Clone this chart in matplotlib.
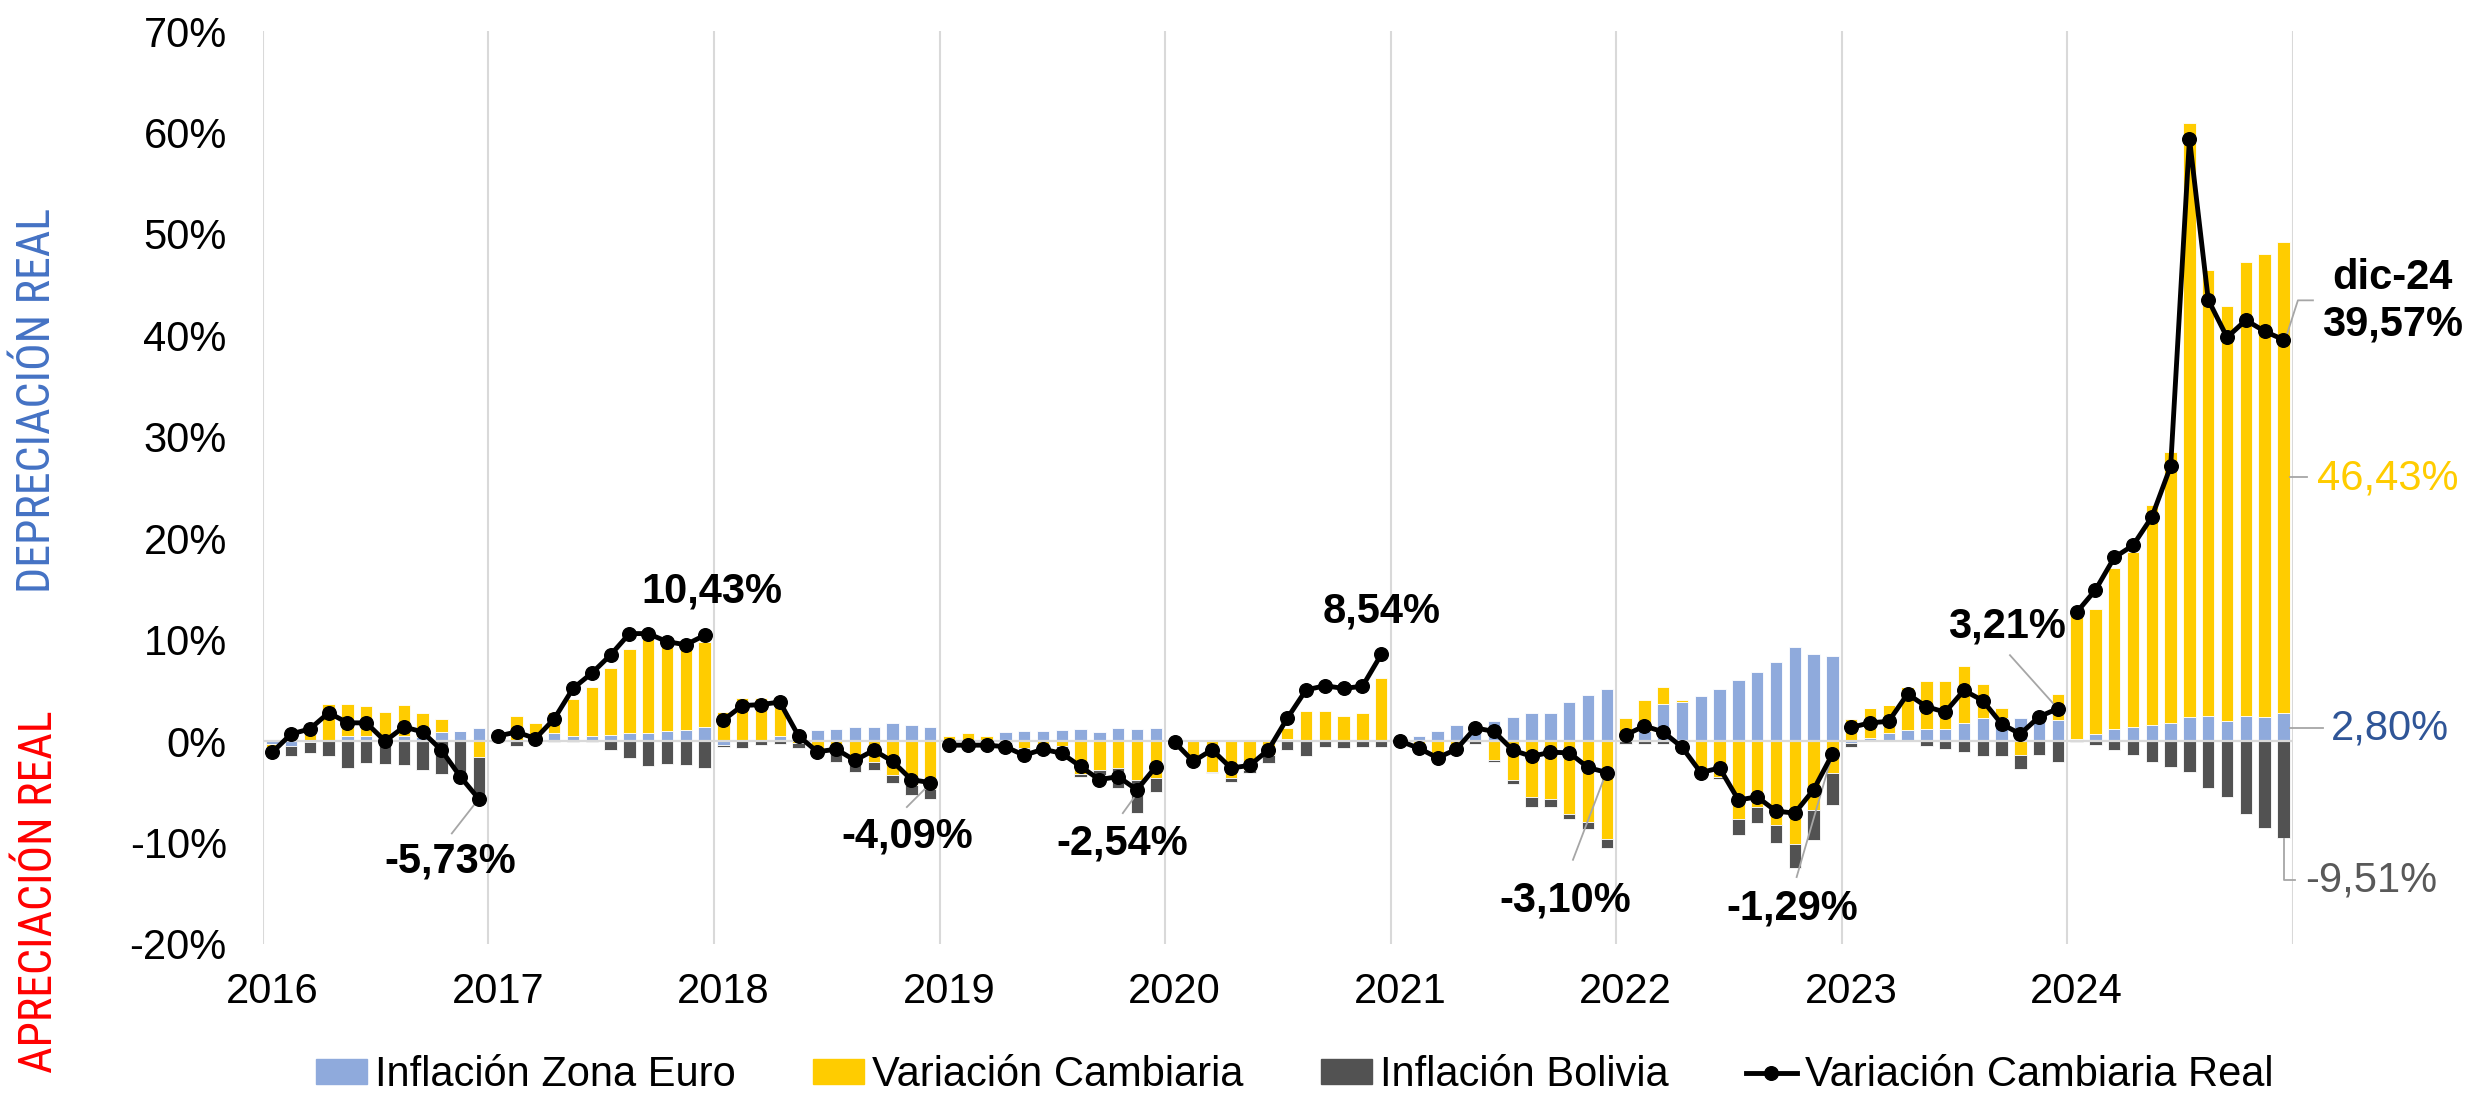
import numpy as np
import matplotlib
matplotlib.use('Agg')
from matplotlib import pyplot as plt
from matplotlib import font_manager
from matplotlib.lines import Line2D
from matplotlib.patches import Patch

plt.rcParams['font.family'] = ['Liberation Sans', 'DejaVu Sans']

years = ['2016', '2017', '2018', '2019', '2020', '2021', '2022', '2023', '2024']

# acumulado en el año, en %  (una fila por año, ene..dic)
inflacion_euro = [
    -0.3, -0.5, -0.1, 0.1, 0.5, 0.5, 0.3, 0.5, 0.4, 0.9, 1.0, 1.3,
    0.0, 0.1, 0.1, 0.75, 0.5, 0.5, 0.6, 0.75, 0.75, 1.0, 1.1, 1.35,
    -0.35, 0.0, 0.1, 0.5, 0.9, 1.1, 1.2, 1.4, 1.35, 1.75, 1.55, 1.4,
    0.0, 0.05, 0.05, 0.9, 1.0, 1.0, 1.1, 1.2, 0.9, 1.3, 1.2, 1.3,
    0.1, 0.0, 0.0, 0.0, 0.0, 0.1, 0.2, 0.0, 0.0, 0.0, 0.0, 0.1,
    0.1, 0.5, 1.0, 1.55, 1.5, 2.0, 2.35, 2.75, 2.8, 3.9, 4.55, 5.1,
    0.0, 1.0, 3.7, 3.9, 4.4, 5.15, 6.0, 6.85, 7.8, 9.3, 8.6, 8.4,
    -0.2, 0.3, 0.8, 1.05, 1.2, 1.2, 1.75, 2.3, 2.25, 2.3, 2.5, 2.05,
    0.2, 0.7, 1.2, 1.4, 1.6, 1.8, 2.4, 2.5, 2.0, 2.5, 2.4, 2.80,
]

variacion_cambiaria = [
    -0.3, 0.5, 1.1, 3.6, 3.2, 2.95, 2.6, 3.05, 2.4, 1.3, 0.0, -1.6,
    0.3, 2.4, 1.7, 2.15, 3.65, 4.85, 6.65, 8.35, 9.35, 8.45, 8.2, 8.45,
    2.9, 4.2, 4.1, 3.8, -0.2, -1.0, -1.2, -2.0, -2.1, -3.35, -4.3, -4.7,
    0.5, 0.75, 0.5, -0.1, -0.7, -0.6, -0.5, -3.2, -2.85, -2.7, -3.8, -3.6,
    -0.1, -1.8, -3.0, -3.6, -2.8, -1.35, 1.1, 3.0, 3.0, 2.45, 2.75, 6.1,
    -0.1, -0.4, -1.35, -0.6, 0.2, -1.85, -3.8, -5.5, -5.7, -7.2, -8.0, -9.65,
    2.3, 3.1, 1.6, 0.2, -2.8, -3.5, -7.7, -6.5, -8.25, -10.1, -6.8, -3.15,
    2.2, 2.95, 2.8, 4.25, 4.7, 4.75, 5.65, 3.3, 1.0, -1.35, 0.0, 2.6,
    12.5, 12.3, 15.9, 17.2, 21.7, 26.7, 58.5, 43.9, 40.9, 44.7, 45.6, 46.43,
]

inflacion_bolivia = [
    -0.5, -1.0, -1.1, -1.5, -2.7, -2.2, -2.3, -2.4, -2.8, -3.2, -3.4, -4.2,
    -0.1, -0.45, -0.3, -0.1, -0.1, -0.1, -0.85, -1.7, -2.5, -2.3, -2.35, -2.7,
    -0.25, -0.7, -0.4, -0.3, -0.5, -0.4, -0.9, -1.0, -0.7, -0.8, -1.05, -1.0,
    -0.2, -0.2, -0.2, -0.2, -0.3, -0.3, -0.3, -0.3, -0.5, -1.9, -3.3, -1.45,
    -0.1, -0.2, -0.1, -0.45, -0.3, -0.8, -0.9, -1.45, -0.6, -0.7, -0.6, -0.6,
    0.0, -0.1, -0.1, -0.1, -0.3, -0.2, -0.4, -1.0, -0.8, -0.5, -0.7, -0.9,
    -0.3, -0.3, -0.3, -0.2, -0.2, -0.25, -1.55, -1.6, -1.75, -2.4, -2.9, -3.1,
    -0.4, 0.0, 0.0, 0.0, -0.5, -0.75, -1.1, -1.45, -1.45, -1.4, -1.4, -2.1,
    -0.1, -0.4, -0.85, -1.4, -2.1, -2.55, -3.05, -4.6, -5.5, -7.2, -8.6, -9.51,
]

variacion_real = [
    -1.1, 0.7, 1.2, 2.8, 1.8, 1.8, 0.0, 1.4, 0.9, -0.9, -3.5, -5.73,
    0.5, 0.9, 0.25, 2.2, 5.2, 6.7, 8.5, 10.6, 10.6, 9.8, 9.5, 10.43,
    2.07, 3.5, 3.6, 3.85, 0.5, -1.05, -0.8, -1.9, -0.9, -2.0, -3.8, -4.09,
    -0.4, -0.4, -0.4, -0.55, -1.4, -0.8, -1.2, -2.5, -3.8, -3.5, -4.8, -2.54,
    -0.1, -2.0, -0.85, -2.65, -2.4, -0.85, 2.25, 5.05, 5.45, 5.2, 5.4, 8.54,
    0.0, -0.7, -1.65, -0.8, 1.3, 0.95, -0.9, -1.5, -1.1, -1.15, -2.6, -3.10,
    0.6, 1.5, 0.9, -0.6, -3.1, -2.65, -5.8, -5.5, -6.9, -7.1, -4.8, -1.29,
    1.35, 1.8, 1.95, 4.65, 3.4, 2.85, 5.0, 4.0, 1.7, 0.7, 2.4, 3.21,
    12.7, 14.9, 18.1, 19.3, 22.1, 27.1, 59.4, 43.5, 39.8, 41.5, 40.4, 39.57,
]

etiquetas = ['Inflación Zona Euro', 'Variación Cambiaria', 'Inflación Bolivia',
             'Variación Cambiaria Real']
colores = ['#8FAADC', '#FFCC00', '#525252']


def pick_font(names):
    for name in names:
        try:
            font_manager.findfont(font_manager.FontProperties(family=name),
                                  fallback_to_default=False)
            return name
        except ValueError:
            continue
    return 'DejaVu Sans'


narrow = pick_font(['Liberation Sans Narrow', 'Roboto Condensed', 'Roboto'])

fig = plt.figure(figsize=(24.71, 10.96), dpi=100)
ax = fig.add_axes([0.1064, 0.1387, 0.8215, 0.8330])

n = len(variacion_real)
x = np.arange(n)

# barras apiladas (positivos hacia arriba, negativos hacia abajo)
pos = np.zeros(n)
neg = np.zeros(n)
for vals, color in zip([inflacion_euro, variacion_cambiaria, inflacion_bolivia], colores):
    v = np.array(vals)
    base = np.where(v >= 0, pos, neg)
    ax.bar(x, v, width=0.66, bottom=base, color=color, edgecolor='white',
           linewidth=0.6, zorder=2)
    pos += np.where(v >= 0, v, 0)
    neg += np.where(v < 0, v, 0)

ax.axhline(0, color='#D9D9D9', lw=1.6, zorder=3)

real = np.array(variacion_real)
for k in range(len(years)):
    s = slice(12 * k, 12 * k + 12)
    ax.plot(x[s], real[s], color='black', lw=3.5, marker='o', ms=9.8, zorder=5)

for k in range(len(years) + 1):
    ax.axvline(12 * k - 0.5, color='#D9D9D9', lw=1.5, zorder=1)

ax.set_xlim(-0.5, n - 0.5)
ax.set_ylim(-20, 70)
ax.set_yticks(range(-20, 71, 10))
ax.set_yticklabels([f'{v}%' for v in range(-20, 71, 10)])
ax.set_xticks(range(0, n, 12))
ax.set_xticklabels(years)
ax.tick_params(axis='y', length=0, labelsize=30, pad=26)
ax.tick_params(axis='x', length=0, labelsize=30, pad=20)
for sp in ax.spines.values():
    sp.set_visible(False)

# etiquetas de datos
lc = '#A6A6A6'
bold = dict(fontsize=30, fontweight='bold', ha='center', va='center', color='black')
ax.text(9.45, -11.9, '-5,73%', **bold)
ax.plot([10.9, 9.55], [-5.9, -9.1], color=lc, lw=1.3, zorder=4)
ax.text(23.4, 14.7, '10,43%', **bold)
ax.text(33.76, -9.36, '-4,09%', **bold)
ax.plot([35.0, 33.76], [-4.2, -6.5], color=lc, lw=1.3, zorder=4)
ax.text(45.2, -10.05, '-2,54%', **bold)
ax.plot([47.0, 45.25], [-2.6, -7.1], color=lc, lw=1.3, zorder=4)
ax.text(59.0, 12.8, '8,54%', **bold)
ax.text(68.77, -15.67, '-3,10%', **bold)
ax.plot([70.95, 69.2], [-3.2, -11.7], color=lc, lw=1.3, zorder=4)
ax.text(80.85, -16.55, '-1,29%', **bold)
ax.plot([82.95, 81.1], [-1.6, -13.4], color=lc, lw=1.3, zorder=4)
ax.text(92.3, 11.33, '3,21%', **bold)
ax.plot([92.45, 94.9], [8.47, 3.4], color=lc, lw=1.3, zorder=4)

ax.text(112.8, 45.7, 'dic-24', **bold)
ax.text(112.8, 41.1, '39,57%', **bold)
ax.plot([107.1, 107.77, 108.57], [39.6, 43.45, 43.45], color=lc, lw=1.3,
        clip_on=False, zorder=4)
ax.text(112.56, 25.9, '46,43%', fontsize=30, ha='center', va='center', color='#FFCC00')
ax.plot([107.34, 108.25], [26.0, 26.0], color=lc, lw=1.3, clip_on=False)
ax.text(112.66, 1.2, '2,80%', fontsize=30, ha='center', va='center', color='#2F5597')
ax.plot([107.34, 109.1], [1.3, 1.3], color=lc, lw=1.3, clip_on=False)
ax.text(111.65, -13.7, '-9,51%', fontsize=30, ha='center', va='center', color='#595959')
ax.plot([107.05, 107.05, 107.64], [-9.66, -13.7, -13.7], color=lc, lw=1.3,
        clip_on=False)

# textos laterales
fig.text(37 / 2471, 1 - 400 / 1096, 'DEPRECIACIÓN REAL', rotation=90,
         ha='center', va='center', fontsize=33, color='#4472C4', family=narrow)
fig.text(39 / 2471, 1 - 892 / 1096, 'APRECIACIÓN REAL', rotation=90,
         ha='center', va='center', fontsize=33, color='#FF0000', family=narrow)

handles = [Patch(color=c) for c in colores]
handles.append(Line2D([], [], color='black', lw=3.5, marker='o', ms=9.8))
fig.legend(handles, etiquetas, loc='center', bbox_to_anchor=(0.524, 0.019),
           ncol=4, frameon=False, fontsize=30, handlelength=1.22,
           handleheight=0.53, handletextpad=0.2, columnspacing=1.85,
           borderpad=0)

fig.savefig('out.png', dpi=100)
